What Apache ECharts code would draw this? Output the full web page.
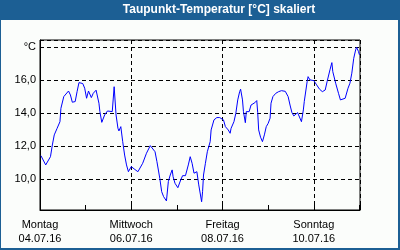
<!DOCTYPE html>
<html>
<head>
<meta charset="utf-8">
<script src="https://cdn.jsdelivr.net/npm/echarts@6/dist/echarts.min.js"></script>
<style>
html,body{margin:0;padding:0;background:#fbfdfb;}
#c{width:400px;height:250px;}
</style>
</head>
<body>
<div id="c"></div>
<script>
// hours since Monday 04.07.16 00:00
var hours = [0.5,3,5.5,6.5,7.5,9,10.5,11,12.5,15,16,17,18.5,19.5,20.5,22.5,23.5,24.5,25.5,27,28,29.5,31,31.5,32.5,34,35.5,38,39,40,41,41.5,42.5,43.5,44.5,45.5,46.5,48,49.5,50.5,51.5,52.5,54,56,58,60.5,61.5,63,64,65,66.5,67.5,68.5,69.5,70,71,72.5,74,75,76.5,78,79,80,81,82,82.5,83.5,85,85.5,86,87,88,89.5,90,91.5,93,94.5,96.5,97.5,99,100,100.5,102,103,104,105,105.5,106.5,107,108,108.5,109,110,111,112,113,114,114.5,115,116,117,118,119,120,121,121.5,122.5,124,125.5,127,129,130.5,131.5,132.5,133.5,134.5,135.5,136,137.5,138,138.5,139,140.5,141,142,144,145.5,147,148.5,150,151,152.5,153.5,154,155.5,157,158,159,160.5,162,163,164,165,166,166.5,167.5,168];
var dewPoint = [11.41,10.85,11.35,12.06,12.67,13.07,13.47,14.28,14.99,15.33,15.09,14.65,14.69,15.29,15.84,15.78,15.5,14.89,15.33,14.93,15.19,15.38,14.59,14.08,13.43,13.88,14.12,14.08,15.59,13.88,13.07,12.91,13.17,12.26,11.45,10.85,10.44,10.75,10.61,10.65,10.44,10.35,10.95,11.56,12.02,11.65,11.05,10.04,9.23,8.93,8.67,9.84,10.24,10.55,10.14,9.74,9.47,9.94,10.2,10.2,10.85,11.35,10.95,10.35,10.24,10.44,9.64,8.62,9.23,10.24,10.95,11.65,12.26,12.97,13.58,13.72,13.72,13.58,13.17,12.97,12.77,13.07,13.47,13.98,14.79,15.29,15.44,14.79,14.08,13.41,14.08,14.18,14.08,14.48,14.48,14.62,14.75,14.02,12.97,12.53,12.26,12.67,13.17,13.37,13.68,14.59,14.99,15.19,15.29,15.35,15.31,14.99,14.48,14.02,13.82,13.82,14.02,13.88,13.47,13.58,14.18,14.7,15.9,16.2,16.0,15.96,15.7,15.44,15.29,15.39,15.9,16.61,17.05,16.5,15.8,15.19,14.79,14.69,14.89,15.5,15.8,16.41,17.31,17.82,17.98,17.72,17.52];
var dayNames = ['Montag','Mittwoch','Freitag','Sonntag'];
var dayDates = ['04.07.16','06.07.16','08.07.16','10.07.16'];
var titleText = 'Taupunkt-Temperatur [°C] skaliert';
var unitLabel = '°C';

var pts = hours.map(function(h,i){return [h, dewPoint[i]];});
var FONT = 'Liberation Sans';
var chart = echarts.init(document.getElementById('c'), null, {renderer:'canvas'});
chart.setOption({
  animation:false,
  backgroundColor:'#fbfdfb',
  grid:{left:40, top:40, width:320, height:170, show:true, borderColor:'#000', borderWidth:1, backgroundColor:'transparent'},
  graphic:[
    {type:'rect', shape:{x:0,y:0,width:400,height:20}, style:{fill:'#1c5f94'}, z:10},
    {type:'rect', shape:{x:0,y:0,width:1,height:250}, style:{fill:'#1c5f94'}, z:10},
    {type:'rect', shape:{x:398,y:0,width:2,height:250}, style:{fill:'#1c5f94'}, z:10},
    {type:'rect', shape:{x:0,y:248,width:400,height:2}, style:{fill:'#1c5f94'}, z:10},
    {type:'text', x:219, y:10, z:11, style:{text:titleText, fill:'#fff', align:'center', verticalAlign:'middle', font:'bold 12px "Liberation Sans"'}}
  ],
  xAxis:[{
    type:'value', min:0, max:168.3, interval:48,
    axisLine:{show:true, lineStyle:{color:'#000'}},
    axisTick:{show:false},
    splitLine:{show:true, lineStyle:{color:'#000', type:[4,3], width:1}},
    axisLabel:{
      show:true, margin:8, color:'#000', fontFamily:FONT, fontSize:11, lineHeight:14,
      showMaxLabel:false,
      formatter:function(v){var i=Math.round(v/48); if(i>=0&&i<dayNames.length&&Math.abs(v-i*48)<0.01) return dayNames[i]+'\n'+dayDates[i]; return '';}
    }
  },{
    type:'value', min:0, max:168.3, interval:24, position:'bottom',
    axisLine:{show:false}, splitLine:{show:false}, axisLabel:{show:false},
    axisTick:{show:true, inside:true, length:5, lineStyle:{color:'#000'}}
  }],
  yAxis:{
    type:'value', min:8.12, max:18.42, splitNumber:5,
    axisLine:{show:true, lineStyle:{color:'#000'}},
    axisTick:{show:false},
    splitLine:{show:true, lineStyle:{color:'#000', type:[4,3], width:1}},
    axisLabel:{
      margin:4, color:'#000', fontFamily:FONT, fontSize:11,
      showMinLabel:false, showMaxLabel:false,
      formatter:function(v){ if(Math.abs(v-18)<0.01) return unitLabel; return v.toFixed(1).replace('.',','); }
    }
  },
  series:[{
    type:'line', data:pts, xAxisIndex:0, showSymbol:false, symbol:'none',
    lineStyle:{color:'#0000ff', width:1}, z:5
  }]
});
</script>
</body>
</html>
